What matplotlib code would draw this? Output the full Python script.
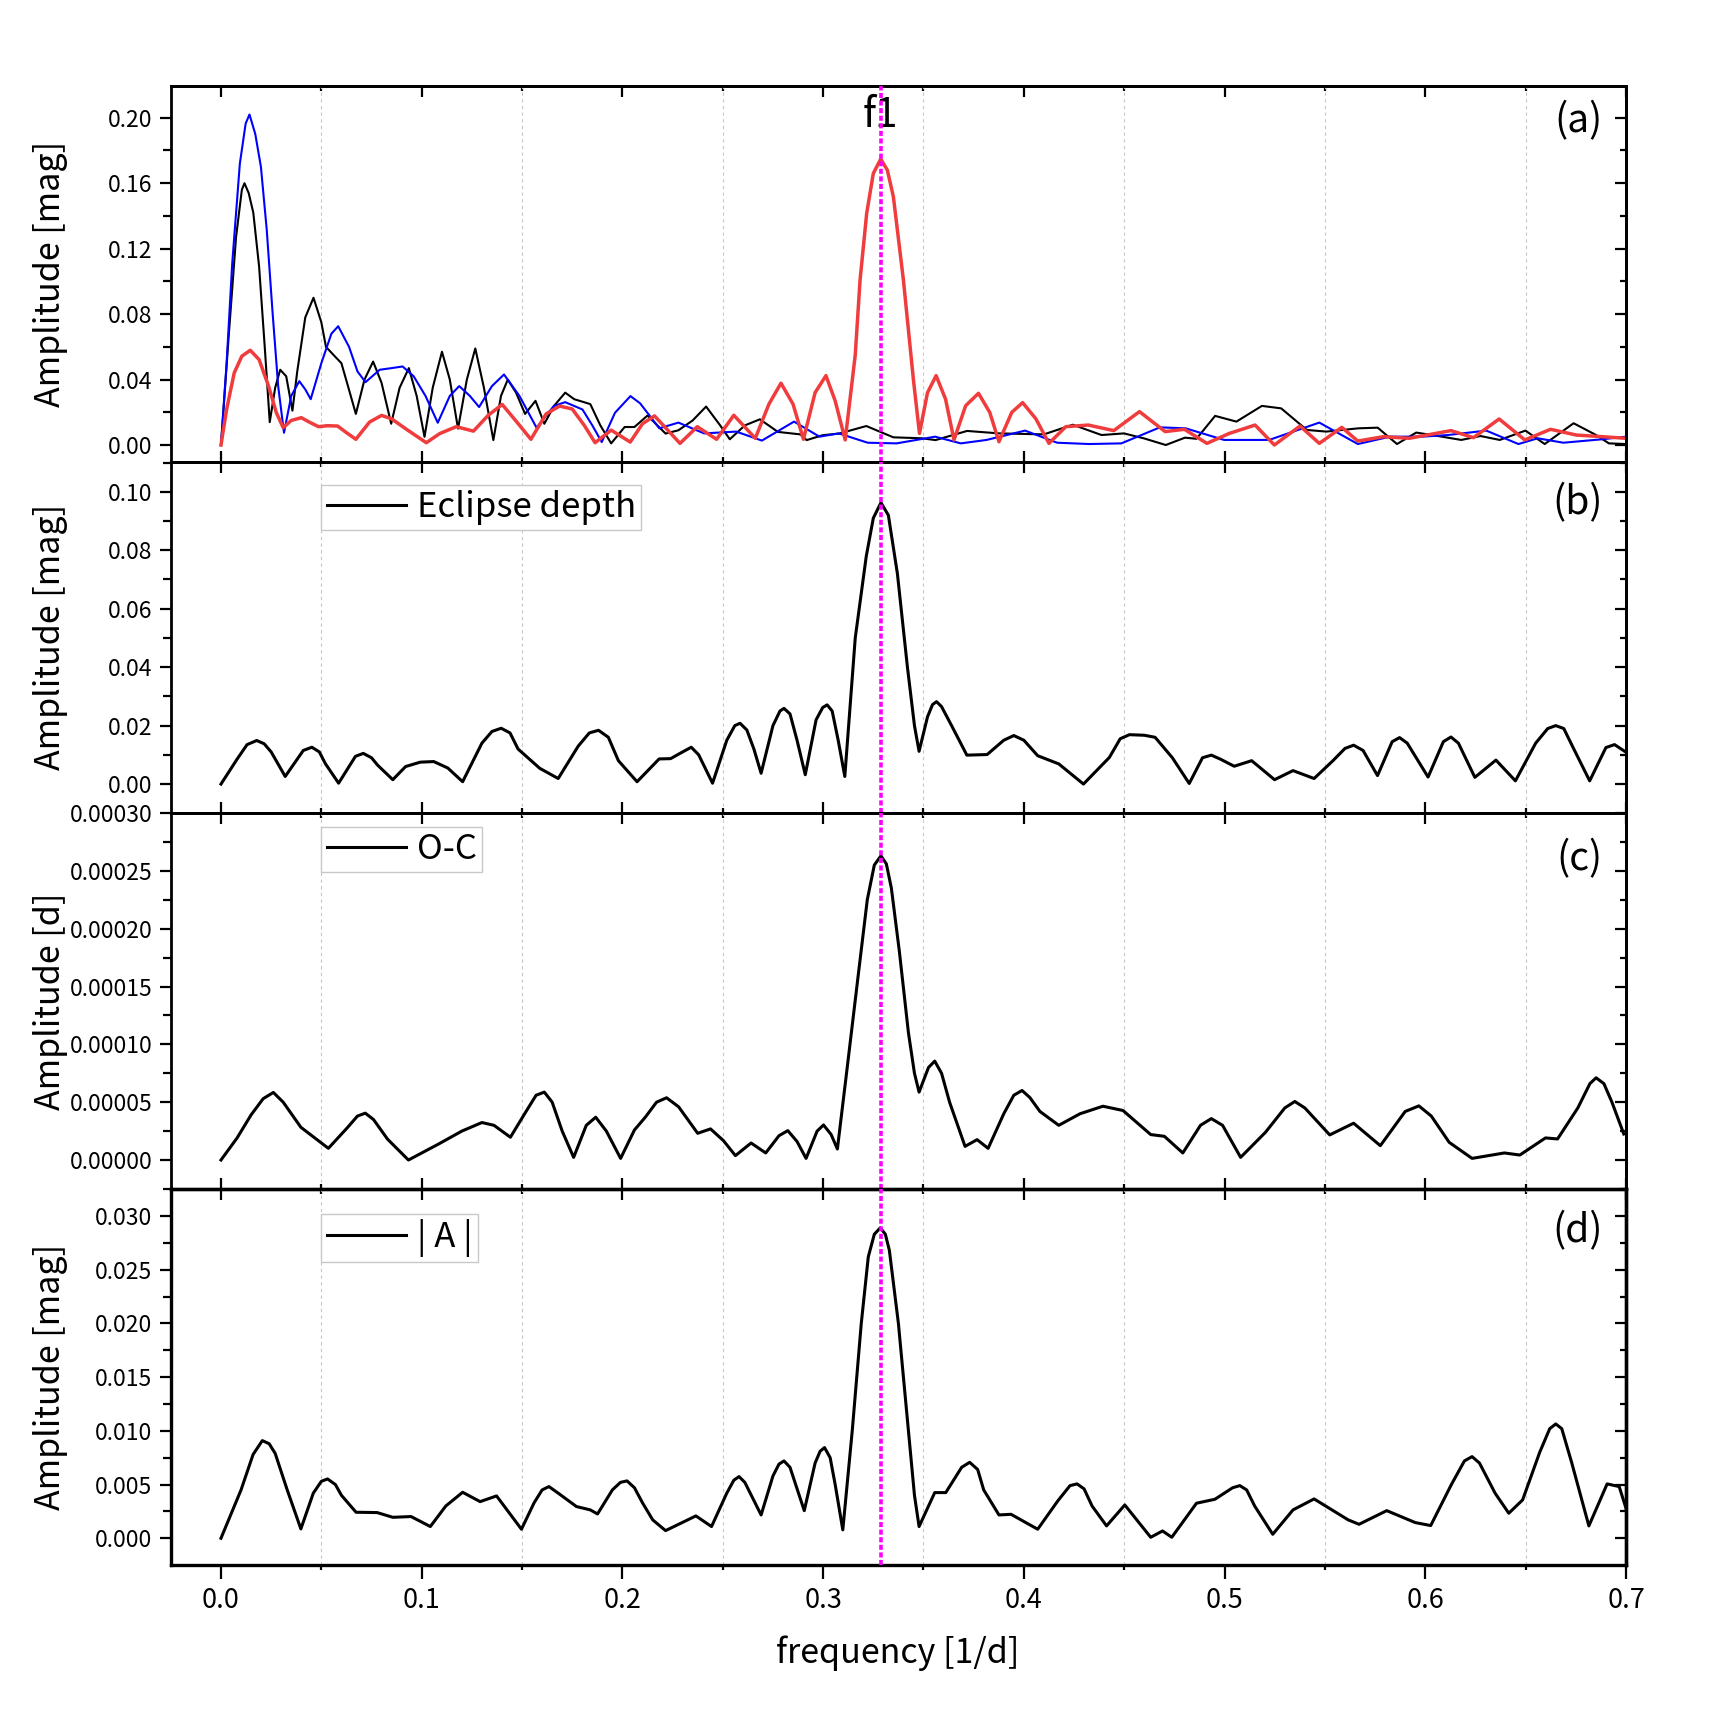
import numpy as np
import matplotlib
matplotlib.use('Agg')
import matplotlib.pyplot as plt
from matplotlib.ticker import MultipleLocator, FormatStrFormatter

plt.rcParams['font.family'] = ['Noto Sans CJK SC', 'DejaVu Sans']
plt.rcParams['lines.solid_joinstyle'] = 'round'

# ---- panel (a): three amplitude spectra ----
freq_a_black = [0.0, 0.0037, 0.0075, 0.0104, 0.0117, 0.0138, 0.0161, 0.0190, 0.0218, 0.0243,
                0.0270, 0.0295, 0.0325, 0.0356, 0.0380, 0.0420, 0.0461, 0.0500, 0.0523, 0.0561,
                0.0600, 0.0635, 0.0672, 0.0715, 0.0758, 0.0800, 0.0848, 0.0890, 0.0936, 0.0975,
                0.1014, 0.1055, 0.1101, 0.1140, 0.1181, 0.1225, 0.1267, 0.1310, 0.1357, 0.1395,
                0.1429, 0.1470, 0.1515, 0.1567, 0.1611, 0.1660, 0.1715, 0.1760, 0.1840, 0.1890,
                0.1944, 0.2011, 0.2060, 0.2125, 0.2215, 0.2279, 0.2350, 0.2417, 0.2487, 0.2535,
                0.2610, 0.2685, 0.2775, 0.2886, 0.2918, 0.2998, 0.3080, 0.3215, 0.3350, 0.3493,
                0.3560, 0.3717, 0.3877, 0.4100, 0.4244, 0.4387, 0.4499, 0.4600, 0.4707, 0.4803,
                0.4860, 0.4953, 0.5059, 0.5186, 0.5282, 0.5410, 0.5507, 0.5667, 0.5763, 0.5859,
                0.5955, 0.6083, 0.6179, 0.6275, 0.6371, 0.6499, 0.6595, 0.6739, 0.6851, 0.6915,
                0.7000]
amp_a_black = [0.0, 0.064, 0.127, 0.156, 0.160, 0.154, 0.142, 0.109, 0.060, 0.014,
               0.035, 0.046, 0.042, 0.021, 0.045, 0.078, 0.090, 0.075, 0.060, 0.055,
               0.050, 0.035, 0.019, 0.040, 0.051, 0.038, 0.013, 0.035, 0.047, 0.030,
               0.005, 0.035, 0.057, 0.040, 0.010, 0.040, 0.059, 0.035, 0.003, 0.030,
               0.040, 0.032, 0.019, 0.027, 0.013, 0.024, 0.032, 0.028, 0.025, 0.012,
               0.001, 0.011, 0.011, 0.018, 0.007, 0.009, 0.015, 0.0235, 0.012, 0.0035,
               0.012, 0.0157, 0.008, 0.0065, 0.003, 0.006, 0.007, 0.0116, 0.0047, 0.0041,
               0.003, 0.0086, 0.0071, 0.0065, 0.0124, 0.0061, 0.0071, 0.004, 0.000, 0.0045,
               0.0038, 0.0178, 0.0143, 0.0239, 0.0224, 0.0092, 0.0082, 0.0102, 0.0106, 0.0006,
               0.0076, 0.0051, 0.0031, 0.0055, 0.0031, 0.0088, 0.0006, 0.0133, 0.0061, 0.0010,
               0.0006]

freq_a_blue = [0.0, 0.0028, 0.0056, 0.0094, 0.0123, 0.0142, 0.0171, 0.0199, 0.0228, 0.0257,
               0.0285, 0.0314, 0.0350, 0.0390, 0.0420, 0.0447, 0.0500, 0.0550, 0.0584, 0.0638,
               0.0680, 0.0720, 0.0791, 0.0850, 0.0905, 0.0960, 0.1019, 0.1080, 0.1140, 0.1187,
               0.1240, 0.1286, 0.1350, 0.1410, 0.1487, 0.1572, 0.1658, 0.1715, 0.1801, 0.1850,
               0.1897, 0.1963, 0.2040, 0.2088, 0.2184, 0.2279, 0.2407, 0.2567, 0.2695, 0.2855,
               0.2982, 0.3078, 0.3222, 0.3366, 0.3558, 0.3686, 0.3814, 0.4006, 0.4166, 0.4326,
               0.4486, 0.4678, 0.4806, 0.4998, 0.5222, 0.5472, 0.5664, 0.5824, 0.5984, 0.6112,
               0.6304, 0.6464, 0.6560, 0.6688, 0.6880, 0.7000]
amp_a_blue = [0.0, 0.050, 0.111, 0.172, 0.1965, 0.202, 0.190, 0.170, 0.1315, 0.081,
              0.036, 0.0075, 0.030, 0.039, 0.034, 0.028, 0.050, 0.068, 0.0726, 0.060,
              0.045, 0.0384, 0.046, 0.047, 0.048, 0.042, 0.030, 0.0136, 0.030, 0.036,
              0.030, 0.0232, 0.036, 0.0431, 0.030, 0.0106, 0.0238, 0.0262, 0.0217, 0.012,
              0.0018, 0.0197, 0.0299, 0.0255, 0.0102, 0.0137, 0.0071, 0.0082, 0.0027, 0.0143,
              0.0051, 0.0071, 0.0014, 0.0010, 0.0051, 0.0010, 0.0031, 0.0088, 0.0014, 0.0006,
              0.0010, 0.0108, 0.0102, 0.0031, 0.0031, 0.0137, 0.0006, 0.0051, 0.0051, 0.0061,
              0.0088, 0.0006, 0.0041, 0.0014, 0.0035, 0.0051]

freq_a_red = [0.0, 0.0028, 0.0066, 0.0104, 0.0146, 0.0190, 0.0237, 0.0276, 0.0310, 0.0350,
              0.0400, 0.0440, 0.0486, 0.0530, 0.0581, 0.0620, 0.0672, 0.0740, 0.0800, 0.0850,
              0.0924, 0.1023, 0.1090, 0.1172, 0.1258, 0.1330, 0.1401, 0.1477, 0.1544, 0.1620,
              0.1687, 0.1750, 0.1810, 0.1864, 0.1944, 0.2039, 0.2100, 0.2160, 0.2287, 0.2373,
              0.2469, 0.2555, 0.2662, 0.2730, 0.2790, 0.2850, 0.2902, 0.2960, 0.3014, 0.3060,
              0.3110, 0.3160, 0.3184, 0.3217, 0.3250, 0.3287, 0.3320, 0.3350, 0.3400, 0.3450,
              0.3480, 0.3520, 0.3563, 0.3610, 0.3652, 0.3710, 0.3774, 0.3830, 0.3876, 0.3940,
              0.3994, 0.4060, 0.4125, 0.4209, 0.4321, 0.4448, 0.4576, 0.4704, 0.4800, 0.4912,
              0.5024, 0.5152, 0.5248, 0.5376, 0.5472, 0.5584, 0.5664, 0.5792, 0.5920, 0.6128,
              0.6240, 0.6368, 0.6496, 0.6624, 0.6752, 0.6880, 0.7000]
amp_a_red = [0.0, 0.0217, 0.0441, 0.0543, 0.0579, 0.0522, 0.036, 0.0197, 0.0106, 0.0150,
             0.0167, 0.0140, 0.0112, 0.0118, 0.0116, 0.0080, 0.0035, 0.0140, 0.0181, 0.0160,
             0.0096, 0.0014, 0.0070, 0.0112, 0.0085, 0.0180, 0.0248, 0.0136, 0.0035, 0.0190,
             0.0238, 0.0220, 0.0120, 0.0014, 0.0091, 0.0018, 0.0130, 0.0178, 0.0010, 0.0112,
             0.0035, 0.0182, 0.0041, 0.0250, 0.0378, 0.0250, 0.0035, 0.0320, 0.0424, 0.0270,
             0.0031, 0.0550, 0.1008, 0.1416, 0.1660, 0.1748, 0.1680, 0.1517, 0.1008, 0.0397,
             0.0071, 0.0320, 0.0424, 0.0280, 0.0031, 0.0240, 0.0316, 0.0200, 0.0020, 0.0200,
             0.0259, 0.0160, 0.0010, 0.0112, 0.0122, 0.0088, 0.0204, 0.0082, 0.0096, 0.0010,
             0.0071, 0.0122, 0.0000, 0.0116, 0.0010, 0.0108, 0.0024, 0.0051, 0.0041, 0.0088,
             0.0045, 0.0159, 0.0031, 0.0096, 0.0061, 0.0051, 0.0041]

# ---- panel (b): eclipse depth ----
freq_b = [0.0, 0.0080, 0.0130, 0.0178, 0.0215, 0.0250, 0.0320, 0.0410, 0.0453, 0.0490,
          0.0520, 0.0586, 0.0670, 0.0709, 0.0750, 0.0780, 0.0856, 0.0920, 0.0993, 0.1060,
          0.1130, 0.1204, 0.1300, 0.1350, 0.1396, 0.1440, 0.1480, 0.1588, 0.1680, 0.1780,
          0.1835, 0.1881, 0.1930, 0.1980, 0.2073, 0.2183, 0.2240, 0.2300, 0.2343, 0.2380,
          0.2449, 0.2520, 0.2560, 0.2586, 0.2620, 0.2655, 0.2691, 0.2750, 0.2785, 0.2805,
          0.2835, 0.2870, 0.2911, 0.2965, 0.2998, 0.3020, 0.3045, 0.3075, 0.3108, 0.3160,
          0.3215, 0.3250, 0.3288, 0.3325, 0.3370, 0.3420, 0.3455, 0.3478, 0.3520, 0.3545,
          0.3565, 0.3590, 0.3640, 0.3716, 0.3817, 0.3900, 0.3950, 0.4000, 0.4069, 0.4174,
          0.4297, 0.4426, 0.4480, 0.4526, 0.4600, 0.4654, 0.4740, 0.4824, 0.4890, 0.4934,
          0.4980, 0.5048, 0.5135, 0.5249, 0.5341, 0.5446, 0.5540, 0.5600, 0.5643, 0.5690,
          0.5762, 0.5835, 0.5872, 0.5910, 0.6014, 0.6090, 0.6128, 0.6165, 0.6247, 0.6352,
          0.6449, 0.6550, 0.6610, 0.6650, 0.6690, 0.6740, 0.6819, 0.6900, 0.6943, 0.7000]
amp_b = [0.0, 0.0085, 0.0135, 0.0149, 0.0138, 0.0110, 0.0026, 0.0115, 0.0126, 0.0110,
         0.0070, 0.0003, 0.0095, 0.0105, 0.0090, 0.0065, 0.0015, 0.0060, 0.0075, 0.0077,
         0.0055, 0.0008, 0.0140, 0.0180, 0.0191, 0.0175, 0.0120, 0.0054, 0.0019, 0.0130,
         0.0175, 0.0184, 0.0160, 0.0080, 0.0008, 0.0086, 0.0087, 0.0110, 0.0126, 0.0100,
         0.0003, 0.0150, 0.0200, 0.0208, 0.0185, 0.0120, 0.0037, 0.0200, 0.0250, 0.0259,
         0.0240, 0.0150, 0.0032, 0.0220, 0.0262, 0.0271, 0.0250, 0.0150, 0.0026, 0.0500,
         0.0780, 0.0910, 0.0963, 0.0920, 0.0720, 0.0400, 0.0200, 0.0112, 0.0230, 0.0272,
         0.0282, 0.0265, 0.0200, 0.0099, 0.0101, 0.0150, 0.0166, 0.0150, 0.0097, 0.0069,
         0.0000, 0.0091, 0.0155, 0.0169, 0.0167, 0.0160, 0.0090, 0.0002, 0.0090, 0.0099,
         0.0085, 0.0061, 0.0080, 0.0015, 0.0046, 0.0019, 0.0080, 0.0122, 0.0133, 0.0115,
         0.0029, 0.0145, 0.0159, 0.0140, 0.0024, 0.0145, 0.0161, 0.0140, 0.0023, 0.0082,
         0.0011, 0.0140, 0.0190, 0.0200, 0.0190, 0.0120, 0.0011, 0.0125, 0.0135, 0.0109]

# ---- panel (c): O-C, amplitude in units of 1e-5 d ----
freq_c = [0.0, 0.0080, 0.0150, 0.0210, 0.0261, 0.0310, 0.0398, 0.0535, 0.0630, 0.0680,
          0.0719, 0.0760, 0.0830, 0.0934, 0.1085, 0.1200, 0.1300, 0.1360, 0.1442, 0.1520,
          0.1570, 0.1611, 0.1650, 0.1700, 0.1757, 0.1820, 0.1867, 0.1920, 0.1991, 0.2060,
          0.2114, 0.2170, 0.2220, 0.2280, 0.2375, 0.2439, 0.2503, 0.2563, 0.2641, 0.2714,
          0.2780, 0.2824, 0.2870, 0.2915, 0.2970, 0.3002, 0.3040, 0.3071, 0.3120, 0.3175,
          0.3220, 0.3255, 0.3288, 0.3315, 0.3340, 0.3380, 0.3425, 0.3455, 0.3478, 0.3525,
          0.3556, 0.3590, 0.3630, 0.3707, 0.3767, 0.3822, 0.3900, 0.3950, 0.3991, 0.4030,
          0.4080, 0.4174, 0.4280, 0.4394, 0.4494, 0.4632, 0.4700, 0.4792, 0.4880, 0.4934,
          0.4990, 0.5080, 0.5204, 0.5300, 0.5350, 0.5400, 0.5524, 0.5643, 0.5776, 0.5900,
          0.5968, 0.6030, 0.6119, 0.6233, 0.6394, 0.6471, 0.6599, 0.6659, 0.6760, 0.6820,
          0.6851, 0.6890, 0.6930, 0.6989]
amp_c_e5 = [0.0, 1.9, 3.9, 5.3, 5.84, 5.0, 2.83, 1.01, 2.8, 3.8,
            4.05, 3.5, 1.8, 0.0, 1.39, 2.5, 3.24, 3.0, 1.97, 4.2,
            5.6, 5.87, 5.0, 2.5, 0.23, 3.0, 3.7, 2.5, 0.14, 2.6,
            3.7, 5.0, 5.38, 4.6, 2.31, 2.69, 1.68, 0.38, 1.47, 0.61,
            2.1, 2.54, 1.6, 0.14, 2.5, 3.03, 2.2, 0.95, 8.0, 16.0,
            22.5, 25.5, 26.3, 25.6, 23.5, 18.0, 11.0, 7.5, 5.87, 8.0,
            8.55, 7.5, 5.0, 1.18, 1.76, 1.01, 4.0, 5.6, 6.01, 5.4,
            4.2, 3.0, 4.0, 4.65, 4.28, 2.2, 2.05, 0.61, 3.0, 3.58,
            3.0, 0.23, 2.4, 4.5, 5.06, 4.5, 2.17, 3.18, 1.24, 4.2,
            4.68, 3.8, 1.53, 0.14, 0.61, 0.43, 1.91, 1.82, 4.5, 6.6,
            7.11, 6.6, 5.0, 2.25]

# ---- panel (d): |A| ----
freq_d = [0.0, 0.0100, 0.0160, 0.0206, 0.0240, 0.0270, 0.0330, 0.0398, 0.0460, 0.0500,
          0.0531, 0.0570, 0.0600, 0.0673, 0.0778, 0.0856, 0.0947, 0.1043, 0.1120, 0.1204,
          0.1291, 0.1373, 0.1497, 0.1560, 0.1600, 0.1634, 0.1680, 0.1771, 0.1840, 0.1876,
          0.1950, 0.1990, 0.2023, 0.2060, 0.2100, 0.2151, 0.2215, 0.2366, 0.2444, 0.2520,
          0.2555, 0.2581, 0.2610, 0.2691, 0.2750, 0.2780, 0.2805, 0.2835, 0.2906, 0.2960,
          0.2985, 0.3007, 0.3035, 0.3060, 0.3098, 0.3145, 0.3190, 0.3225, 0.3255, 0.3285,
          0.3310, 0.3330, 0.3375, 0.3420, 0.3455, 0.3478, 0.3556, 0.3611, 0.3690, 0.3730,
          0.3770, 0.3800, 0.3876, 0.3936, 0.4069, 0.4170, 0.4230, 0.4265, 0.4300, 0.4340,
          0.4412, 0.4503, 0.4632, 0.4691, 0.4737, 0.4860, 0.4952, 0.5040, 0.5076, 0.5110,
          0.5150, 0.5240, 0.5341, 0.5446, 0.5616, 0.5670, 0.5808, 0.5950, 0.6027, 0.6130,
          0.6195, 0.6233, 0.6270, 0.6348, 0.6416, 0.6485, 0.6570, 0.6620, 0.6650, 0.6680,
          0.6730, 0.6815, 0.6906, 0.6966, 0.7000]
amp_d = [0.0, 0.0045, 0.0078, 0.00909, 0.0088, 0.0079, 0.0045, 0.00087, 0.0042, 0.0053,
         0.00552, 0.0050, 0.0040, 0.00242, 0.00239, 0.00195, 0.00202, 0.00109, 0.0030, 0.00428,
         0.00341, 0.00394, 0.00084, 0.0033, 0.0045, 0.00481, 0.0042, 0.00295, 0.00264, 0.00226,
         0.0045, 0.0052, 0.00534, 0.0047, 0.0033, 0.00171, 0.00071, 0.00208, 0.00109, 0.0042,
         0.0054, 0.00574, 0.0052, 0.00217, 0.0058, 0.0069, 0.0072, 0.0066, 0.00257, 0.0070,
         0.0081, 0.00844, 0.0075, 0.0050, 0.00078, 0.0100, 0.0200, 0.0262, 0.0283, 0.0289,
         0.0283, 0.0268, 0.0200, 0.0110, 0.0040, 0.00109, 0.00425, 0.00425, 0.0066, 0.00707,
         0.0064, 0.0045, 0.00217, 0.00223, 0.00084, 0.0035, 0.0049, 0.00506, 0.0046, 0.0030,
         0.00115, 0.0031, 0.00009, 0.00068, 0.00009, 0.00326, 0.00363, 0.0047, 0.0049, 0.0045,
         0.0030, 0.00037, 0.00264, 0.00366, 0.00171, 0.0013, 0.00257, 0.00146, 0.00118, 0.0050,
         0.0072, 0.0076, 0.0070, 0.00419, 0.00233, 0.00357, 0.0080, 0.0102, 0.01064, 0.0102,
         0.0070, 0.00115, 0.00506, 0.00481, 0.0028]

f1 = 0.3287
panel_tags = ['(a)', '(b)', '(c)', '(d)']
tag_offsets = [-36, -42, -46, -43]
legend_labels = [None, 'Eclipse depth', 'O-C', '| A |']
ylabels = ['Amplitude [mag]', 'Amplitude [mag]', 'Amplitude [d]', 'Amplitude [mag]']
ylims = [(-0.0102, 0.2196), (-0.0099, 0.1103), (-0.0000248, 0.0003), (-0.00249, 0.03254)]
ymajor = [0.04, 0.02, 0.00005, 0.005]
yfmt = ['%.2f', '%.2f', '%.5f', '%.3f']

W, H = 1711, 1711
fig = plt.figure(figsize=(W / 100, H / 100), dpi=100)
L, R = 171, 1626
rows = [(85.7, 461.7), (461.7, 813.0), (813.0, 1188.7), (1188.7, 1565.0)]
axes = [fig.add_axes([L / W, 1 - b / H, (R - L) / W, (b - t) / H]) for t, b in rows]

axes[0].plot(freq_a_black, amp_a_black, color='black', lw=1.5)
axes[0].plot(freq_a_blue, amp_a_blue, color='#0000FF', lw=1.5)
axes[0].plot(freq_a_red, amp_a_red, color='#F03C3C', lw=2.5)
axes[1].plot(freq_b, amp_b, color='black', lw=2.2, label=legend_labels[1])
axes[2].plot(freq_c, np.array(amp_c_e5) * 1e-5, color='black', lw=2.2, label=legend_labels[2])
axes[3].plot(freq_d, amp_d, color='black', lw=2.2, label=legend_labels[3])

leg_y = [None, 1 - 23 / 351.3, 1 - 14 / 375.7, 1 - 25 / 376.3]

for i, ax in enumerate(axes):
    last = i == 3
    sw = 2.4 if last else 2.0
    for s in ax.spines.values():
        s.set_linewidth(sw)
    ax.set_xlim(-0.0249, 0.7)
    ax.set_ylim(*ylims[i])
    ax.xaxis.set_major_locator(MultipleLocator(0.1))
    ax.xaxis.set_minor_locator(MultipleLocator(0.05))
    ax.yaxis.set_major_locator(MultipleLocator(ymajor[i]))
    ax.yaxis.set_minor_locator(MultipleLocator(ymajor[i] / 2))
    ax.yaxis.set_major_formatter(FormatStrFormatter(yfmt[i]))
    ax.xaxis.set_major_formatter(FormatStrFormatter('%.1f'))
    ax.grid(which='minor', axis='x', color='#c8c8c8', lw=0.8, ls=(0, (3, 3)))
    ax.tick_params(axis='y', which='both', left=True, right=False, direction='out',
                   labelsize=16.5, pad=5.5, width=1.6)
    ax.tick_params(axis='y', which='major', length=8)
    ax.tick_params(axis='y', which='minor', length=5.5)
    ax.tick_params(axis='x', which='both', bottom=True, top=False,
                   direction='out' if last else 'in', labelbottom=last,
                   labelsize=19.5, pad=6, width=1.6)
    ax.tick_params(axis='x', which='major', length=10 if last else 8)
    ax.tick_params(axis='x', which='minor', length=3.6)

    # right and top ticks point inward
    sy = ax.secondary_yaxis('right')
    sy.yaxis.set_major_locator(MultipleLocator(ymajor[i]))
    sy.yaxis.set_minor_locator(MultipleLocator(ymajor[i] / 2))
    sy.tick_params(which='both', direction='in', labelright=False, width=1.6)
    sy.tick_params(which='major', length=8)
    sy.tick_params(which='minor', length=4.5)
    sy.spines['right'].set_linewidth(sw)
    sx = ax.secondary_xaxis('top')
    sx.xaxis.set_major_locator(MultipleLocator(0.1))
    sx.xaxis.set_minor_locator(MultipleLocator(0.05))
    sx.tick_params(which='both', direction='in', labeltop=False, width=1.6)
    sx.tick_params(which='major', length=8)
    sx.tick_params(which='minor', length=3.6)
    sx.spines['top'].set_linewidth(sw)

    ax.axvline(f1, color='#FF00FF', lw=2.6, ls=(0, (1.4, 0.7)), zorder=5)

    ax.annotate(panel_tags[i], xy=(1, 1), xycoords='axes fraction',
                xytext=(-23, tag_offsets[i]), textcoords='offset pixels',
                ha='right', va='center', fontsize=28)

    if legend_labels[i]:
        ax.legend(loc='upper left', bbox_to_anchor=((0.05 + 0.0249) / 0.7249, leg_y[i]),
                  borderaxespad=0, fontsize=25, frameon=True, fancybox=False,
                  edgecolor='#c8c8c8', framealpha=1, handlelength=2.3,
                  handletextpad=0.3, borderpad=0.15)

    cy = 1 - (rows[i][0] + rows[i][1]) / 2 / H
    fig.text(50 / W, cy, ylabels[i], rotation=90, ha='center', va='center', fontsize=24.5)

axes[0].annotate('f1', xy=(f1, 1), xycoords=('data', 'axes fraction'), xytext=(0, -30),
                 textcoords='offset pixels', ha='center', va='center', fontsize=29, zorder=1)

fig.text(898 / W, 1 - 1653 / H, 'frequency [1/d]', ha='center', va='center', fontsize=24.5)

fig.savefig('out.png', dpi=100)
